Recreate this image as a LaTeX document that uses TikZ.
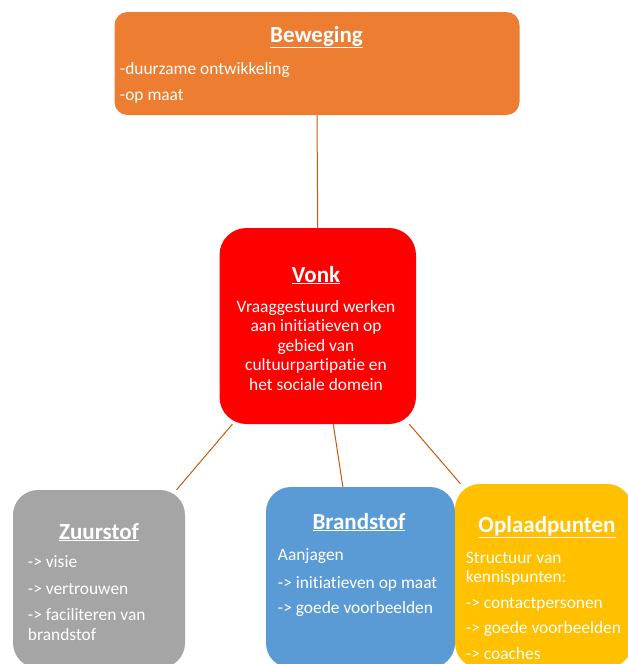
\documentclass[tikz,border=0pt]{standalone}
\usepackage{fontspec}
\setmainfont{Carlito}[Ligatures=NoCommon]
\definecolor{cBeweging}{HTML}{ED7D31}
\definecolor{cVonk}{HTML}{FF0000}
\definecolor{cZuurstof}{HTML}{A5A5A5}
\definecolor{cBrandstof}{HTML}{5B9BD5}
\definecolor{cOplaad}{HTML}{FFC000}
\definecolor{cLijn}{HTML}{C55A11}
\tikzset{
  blok/.style={draw=none,rectangle,inner sep=0pt,rounded corners=25pt},
  kop/.style={anchor=base,inner sep=0.75pt,text=white,font=\fontsize{23}{27}\selectfont\bfseries},
  tekst/.style={anchor=base west,inner sep=0.75pt,text=white,font=\fontsize{17.4}{19.5}\selectfont},
  lijn/.style={draw=cLijn,line width=1pt}
}
\begin{document}
\begin{tikzpicture}[x=1pt,y=-1pt]
\clip (0,0) rectangle (628,664);
\useasboundingbox (0,0) rectangle (628,664);

%Shape: Beweging
\node [blok,rounded corners=13pt,fill=cBeweging,minimum width=405,minimum height=103] (beweging) at (317,63.5) {};
%Shape: Vonk
\node [blok,rounded corners=27pt,fill=cVonk,minimum width=196.5,minimum height=196] (vonk) at (317.75,326) {};
%Shape: Zuurstof
\node [blok,fill=cZuurstof,minimum width=172,minimum height=178] (zuurstof) at (99,579) {};
%Shape: Brandstof
\node [blok,fill=cBrandstof,minimum width=189,minimum height=181] (brandstof) at (360.5,577.5) {};
%Shape: Oplaadpunten
\node [blok,fill=cOplaad,minimum width=177,minimum height=184] (oplaad) at (543.5,576) {};

%Straight Lines
\draw [lijn] (beweging.south) -- (vonk.north);
\draw [lijn] (vonk.229) -- (zuurstof.49);
\draw [lijn] (vonk.-81) -- (brandstof.101);
\draw [lijn] (vonk.-47) -- (oplaad.132);

% Text Node
\node [kop] (tBeweging) at (316.5,42) {\underline{Beweging}};
\node [tekst] (tBew1) at (119,74) {-duurzame ontwikkeling};
\node [tekst] (tBew2) at (119,100) {-op maat};
% Text Node
\node [kop] (tVonk) at (316,282) {\underline{Vonk}};
\node [anchor=base,inner sep=0.75pt,text=white,align=center,font=\fontsize{17.4}{19.5}\selectfont] (tVonkTekst) at (316,390) {Vraaggestuurd werken\\aan initiatieven op\\gebied van\\cultuurpartipatie en\\het sociale domein};
% Text Node
\node [kop] (tZuurstof) at (99,539) {\underline{Zuurstof}};
\node [tekst] (tZuur1) at (27,567.5) {-> visie};
\node [tekst] (tZuur2) at (27,594.5) {-> vertrouwen};
\node [tekst] (tZuur3) at (27,620.5) {-> faciliteren van};
\node [tekst] (tZuur4) at (27,640) {brandstof};
% Text Node
\node [kop] (tBrandstof) at (359,529) {\underline{Brandstof}};
\node [tekst] (tBrand1) at (277,560.5) {Aanjagen};
\node [tekst] (tBrand2) at (277,588.5) {-> initiatieven op maat};
\node [tekst] (tBrand3) at (277,613.5) {-> goede voorbeelden};
% Text Node
\node [kop] (tOplaad) at (547,532) {\underline{Oplaadpunten}};
\node [tekst] (tOpl1) at (465,563.5) {Structuur van};
\node [tekst] (tOpl2) at (465,582) {kennispunten:};
\node [tekst] (tOpl3) at (465,608) {-> contactpersonen};
\node [tekst] (tOpl4) at (465,633) {-> goede voorbeelden};
\node [tekst] (tOpl5) at (465,659) {-> coaches};

\end{tikzpicture}
\end{document}
